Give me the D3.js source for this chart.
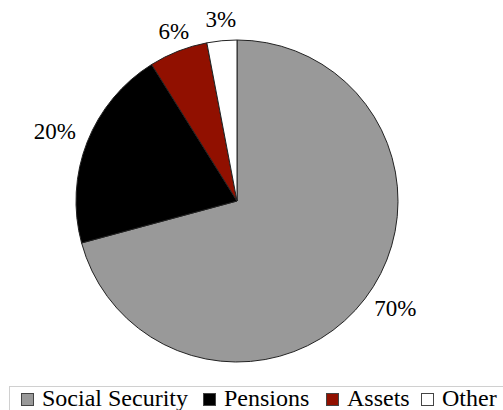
<!DOCTYPE html>
<html><head><meta charset="utf-8">
<script src="https://cdn.jsdelivr.net/npm/d3@7"></script>
</head><body style="margin:0"><svg id="c" width="503" height="410" style="display:block"></svg>
<script>
const categories = ["Social Security", "Pensions", "Assets", "Other"];
const values = [70.8, 20.3, 5.9, 3.0];
const labels = ["70%", "20%", "6%", "3%"];
const colors = ["#999999", "#000000", "#911000", "#ffffff"];
const FONT = "'Liberation Serif', serif";

const svg = d3.select("#c");
const cx = 237, cy = 201, r = 161;
const g = svg.append("g").attr("transform", `translate(${cx},${cy})`);
const pie = d3.pie().sort(null).value(d => d)(values);
const arc = d3.arc().innerRadius(0).outerRadius(r);
g.selectAll("path").data(pie).join("path")
  .attr("d", arc).attr("fill", (d, i) => colors[i])
  .attr("stroke", "#222").attr("stroke-width", 1);

// labels outside the slices (no text measurement needed)
const lr = r + 12;
g.selectAll("text.lbl").data(pie).join("text").attr("class", "lbl")
  .text((d, i) => labels[i])
  .attr("font-family", FONT)
  .attr("font-size", 23)
  .attr("dominant-baseline", "central")
  .each(function(d) {
    const a = (d.startAngle + d.endAngle) / 2;
    const s = Math.sin(a), c = -Math.cos(a);
    const anchor = s > 0.5 ? "start" : (s < -0.5 ? "end" : "middle");
    d3.select(this)
      .attr("text-anchor", anchor)
      .attr("x", lr * s)
      .attr("y", lr * c + c * 9 - (Math.abs(s) > 0.5 ? 3 : 0));
  });

// legend
const lg = svg.append("g");
lg.append("rect").attr("x", 9.5).attr("y", 386.5).attr("width", 520).attr("height", 40)
  .attr("fill", "none").attr("stroke", "#d0d0d0");
const legendStep = d3.scaleOrdinal().domain(categories).range([21, 203, 326, 421]);
categories.forEach((name, i) => {
  const x = legendStep(name);
  lg.append("rect").attr("x", x + 0.5).attr("y", 393.5).attr("width", 12).attr("height", 12)
    .attr("fill", colors[i]).attr("stroke", "#444");
  lg.append("text").attr("x", x + 21).attr("y", 406)
    .attr("font-family", FONT).attr("font-size", 24).text(name);
});
</script></body></html>
